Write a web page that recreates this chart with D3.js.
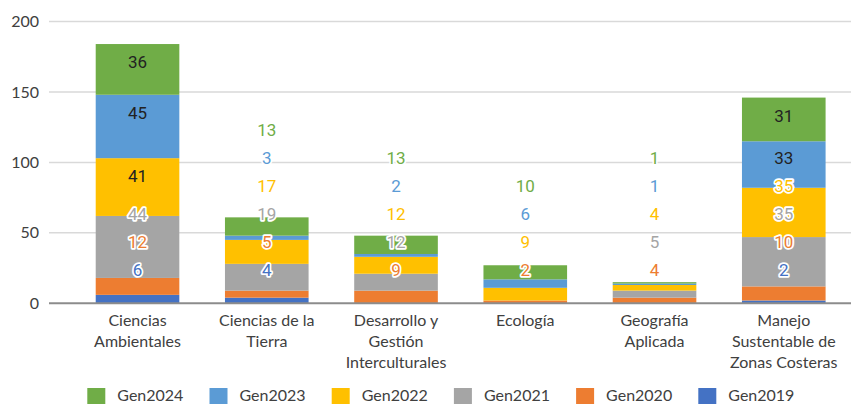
<!DOCTYPE html>
<html>
<head>
<meta charset="utf-8">
<script src="https://cdn.jsdelivr.net/npm/d3@7"></script>
<style>
  html, body { margin: 0; padding: 0; background: #fff; }
  svg { display: block; }
</style>
</head>
<body>
<svg id="chart" width="857" height="404"></svg>
<script>
const categories = [
  "Ciencias\nAmbientales",
  "Ciencias de la\nTierra",
  "Desarrollo y\nGestión\nInterculturales",
  "Ecología",
  "Geografía\nAplicada",
  "Manejo\nSustentable de\nZonas Costeras"
];
// stacking order bottom -> top
const seriesNames = ["Gen2019", "Gen2020", "Gen2021", "Gen2022", "Gen2023", "Gen2024"];
const gen2019 = [6, 4, 0, 0, 0, 2];
const gen2020 = [12, 5, 9, 2, 4, 10];
const gen2021 = [44, 19, 12, 0, 5, 35];
const gen2022 = [41, 17, 12, 9, 4, 35];
const gen2023 = [45, 3, 2, 6, 1, 33];
const gen2024 = [36, 13, 13, 10, 1, 31];
const seriesColors = ["#4472C4", "#ED7D31", "#A5A5A5", "#FFC000", "#5B9BD5", "#70AD47"];
const yTicks = [0, 50, 100, 150, 200];
const legendOrder = ["Gen2024", "Gen2023", "Gen2022", "Gen2021", "Gen2020", "Gen2019"];

const seriesValues = [gen2019, gen2020, gen2021, gen2022, gen2023, gen2024];
const rows = categories.map((c, i) => {
  const r = { cat: c };
  seriesNames.forEach((s, k) => r[s] = seriesValues[k][i]);
  return r;
});
const stacked = d3.stack().keys(seriesNames)(rows);

const svg = d3.select("#chart");
const x = d3.scaleBand().domain(categories).range([72.9, 848.4])
  .paddingInner(0.353).paddingOuter(0.1765);
const y = d3.scaleLinear().domain([0, 200]).range([303.3, 21.5]);
const color = d3.scaleOrdinal().domain(seriesNames).range(seriesColors);

const gridLeft = 49, gridRight = 851;

// gridlines
svg.append("g").selectAll("line").data(yTicks.filter(t => t > 0)).join("line")
  .attr("x1", gridLeft).attr("x2", gridRight)
  .attr("y1", d => y(d)).attr("y2", d => y(d))
  .attr("stroke", "#d9d9d9").attr("stroke-width", 1.5);

// y tick labels
const yAxis = svg.append("g").attr("transform", `translate(${gridLeft - 10},0)`)
  .call(d3.axisLeft(y).tickValues(yTicks).tickSize(0).tickPadding(0));
yAxis.select(".domain").remove();
yAxis.selectAll("text").attr("font-family", "Lato, 'Open Sans', sans-serif")
  .attr("font-size", 16).attr("fill", "#404040");

// bars
svg.append("g").selectAll("g").data(stacked).join("g")
  .attr("fill", d => color(d.key))
  .selectAll("rect").data(d => d).join("rect")
  .attr("x", d => x(d.data.cat))
  .attr("width", x.bandwidth())
  .attr("y", d => y(d[1]))
  .attr("height", d => y(d[0]) - y(d[1]));

// baseline
svg.append("line").attr("x1", gridLeft).attr("x2", gridRight)
  .attr("y1", y(0)).attr("y2", y(0))
  .attr("stroke", "#8c8c8c").attr("stroke-width", 2);

// data labels: inside-end, pushed upward to avoid overlaps
const labelOffset = 18, labelGap = 28, labelFloor = 270;
const labels = [];
categories.forEach((c, i) => {
  let prev = null;
  stacked.forEach((s, k) => {
    const v = s[i].data[s.key];
    if (!v) return;
    const desired = y(s[i][1]) + labelOffset;
    const limit = prev === null ? labelFloor : prev - labelGap;
    const pos = Math.min(desired, limit);
    prev = pos;
    labels.push({ cat: c, key: s.key, value: v, pos, pushed: desired - pos > 4 });
  });
});
const lg = svg.append("g").attr("font-family", "Roboto, sans-serif").attr("font-size", 17)
  .attr("text-anchor", "middle");
lg.selectAll("text").data(labels).join("text")
  .attr("x", d => x(d.cat) + x.bandwidth() / 2)
  .attr("y", d => d.pos)
  .attr("dy", "0.35em")
  .attr("fill", d => d.pushed ? color(d.key) : "#222")
  .attr("stroke", d => d.pushed ? "#fff" : "none")
  .attr("stroke-width", 3.5)
  .attr("stroke-linejoin", "round")
  .attr("paint-order", "stroke")
  .text(d => d.value);

// category labels
const cg = svg.append("g").attr("font-family", "Lato, 'Open Sans', sans-serif")
  .attr("font-size", 16).attr("fill", "#404040").attr("text-anchor", "middle");
categories.forEach(c => {
  const t = cg.append("text").attr("x", x(c) + x.bandwidth() / 2).attr("y", 320).attr("dy", "0.35em");
  c.split("\n").forEach((line, j) => {
    t.append("tspan").attr("x", x(c) + x.bandwidth() / 2).attr("y", 320 + j * 21)
      .attr("dy", "0.35em").text(line);
  });
});

// legend
const legStart = 87.3, legStep = 122.2;
const leg = svg.append("g").attr("font-family", "Lato, 'Open Sans', sans-serif").attr("font-size", 16);
legendOrder.forEach((name, i) => {
  const gx = legStart + i * legStep;
  leg.append("rect").attr("x", gx).attr("y", 388).attr("width", 18).attr("height", 16)
    .attr("fill", color(name));
  leg.append("text").attr("x", gx + 30).attr("y", 395).attr("dy", "0.35em")
    .attr("fill", "#404040").text(name);
});
</script>
</body>
</html>
